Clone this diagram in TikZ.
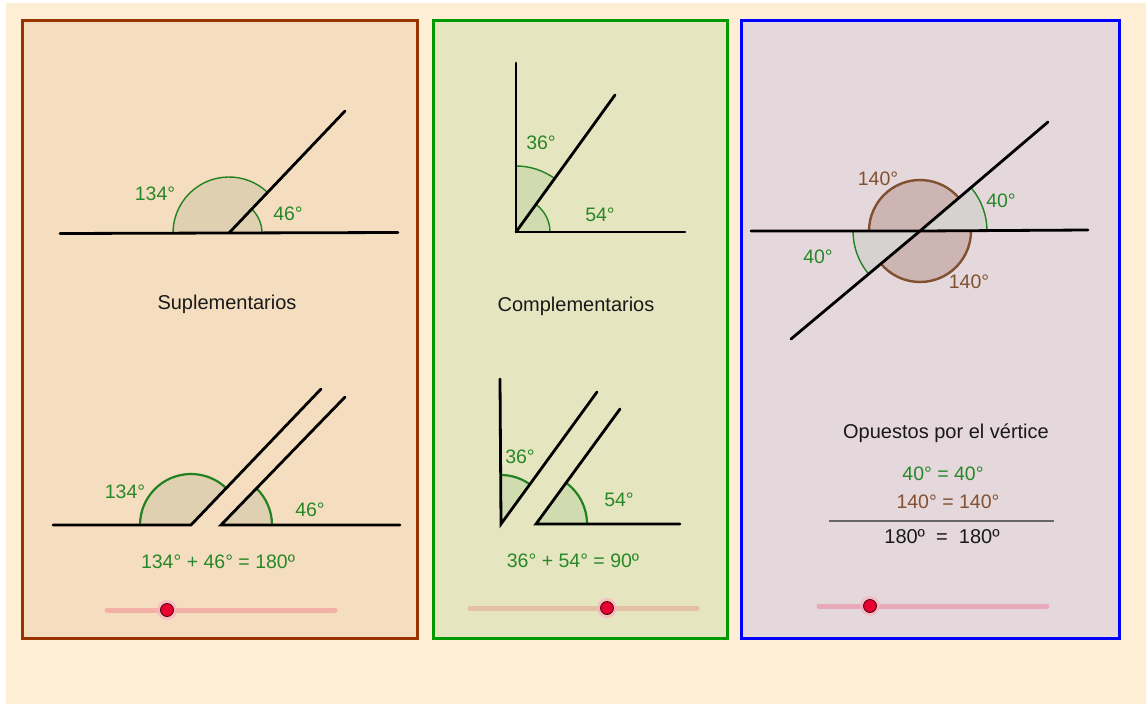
\documentclass[tikz,border=0pt]{standalone}
\usepackage{fontspec}
\setmainfont{Liberation Sans}
\definecolor{cream}{RGB}{255,238,214}
\definecolor{lfill}{RGB}{245,222,192}
\definecolor{lborder}{RGB}{153,51,0}
\definecolor{mfill}{RGB}{229,229,192}
\definecolor{mborder}{RGB}{0,153,0}
\definecolor{rfill}{RGB}{229,216,220}
\definecolor{rborder}{RGB}{0,0,255}
\definecolor{lsect}{RGB}{222,208,176}
\definecolor{msect}{RGB}{208,220,176}
\definecolor{rbrsect}{RGB}{205,181,180}
\definecolor{rgrsect}{RGB}{214,210,208}
\definecolor{gtext}{RGB}{40,135,40}
\definecolor{garc}{RGB}{34,130,34}
\definecolor{brn}{RGB}{128,80,48}
\definecolor{knob}{RGB}{232,0,50}
\tikzset{
  panel/.style={line width=3pt},
  ray/.style={line width=2.8pt, black, line cap=round},
  garcline/.style={garc, line width=1.4pt},
  garcthick/.style={garc, line width=2.2pt},
  brarc/.style={brn, line width=2.4pt},
  glabel/.style={text=gtext, font=\fontsize{19.5}{19.5}\selectfont, inner sep=0pt},
  blabel/.style={text=brn, font=\fontsize{19.5}{19.5}\selectfont, inner sep=0pt},
  title/.style={text=black!90, font=\fontsize{20}{20}\selectfont, inner sep=0pt},
  sliderline/.style={line width=5pt, line cap=round},
}
\newcommand{\myknob}[2]{%
  \fill[knob!30, opacity=0.7] (#1) circle (10pt);
  \fill[knob, draw=black!70!red, line width=0.8pt] (#1) circle (6.5pt);
}
\begin{document}
\begin{tikzpicture}[x=1pt,y=1pt]
\useasboundingbox (0,0) rectangle (1146,-704);
\fill[white] (0,0) rectangle (1146,-704);
\fill[cream] (6,-3) rectangle (1146,-704);

% panels
\draw[panel, draw=lborder, fill=lfill] (22,-20) rectangle (417,-638);
\draw[panel, draw=mborder, fill=mfill] (433,-20) rectangle (727,-638);
\draw[panel, draw=rborder, fill=rfill] (741,-20) rectangle (1119,-638);

% ---------- Left panel, top ----------
\coordinate (L1v) at (229,-233);
\coordinate (L1a) at (60,-233.5);
\coordinate (L1b) at (398,-232.5);
\coordinate (L1r) at (345,-111);
\fill[lsect] (L1v) -- ++(46:56) arc[start angle=46,end angle=180,radius=56] -- cycle;
\fill[lsect] (L1v) -- ++(0:33) arc[start angle=0,end angle=46,radius=33] -- cycle;
\draw[garcline] (L1v) ++(46:56) arc[start angle=46,end angle=180,radius=56];
\draw[garcline] (L1v) ++(0:33) arc[start angle=0,end angle=46,radius=33];
\draw[ray] (L1a) -- (L1v) -- (L1b);
\draw[ray] (L1v) -- (L1r);
\node[glabel] (l134) at (155,-194) {134°};
\node[glabel] (l46) at (288,-214) {46°};
\node[title] (sup) at (227,-304) {Suplementarios};

% ---------- Left panel, bottom ----------
\coordinate (L2v) at (191,-525);
\coordinate (L2a) at (53,-525);
\coordinate (L2r) at (321,-389);
\coordinate (L2w) at (221,-525);
\coordinate (L2b) at (400,-525);
\coordinate (L2s) at (345,-397);
\fill[lsect] (L2v) -- ++(46:51) arc[start angle=46,end angle=180,radius=51] -- cycle;
\fill[lsect] (L2w) -- ++(0:51) arc[start angle=0,end angle=46,radius=51] -- cycle;
\draw[garcthick] (L2v) ++(46:51) arc[start angle=46,end angle=180,radius=51];
\draw[garcthick] (L2w) ++(0:51) arc[start angle=0,end angle=46,radius=51];
\draw[ray] (L2a) -- (L2v) -- (L2r);
\draw[ray] (L2b) -- (L2w) -- (L2s);
\node[glabel] (l2134) at (125,-492) {134°};
\node[glabel] (l246) at (310,-510) {46°};
\node[glabel] (leq) at (218,-562) {134° + 46° = 180º};

% slider left
\coordinate (s1a) at (107,-610);
\coordinate (s1b) at (335,-610);
\coordinate (k1) at (167,-610);
\draw[sliderline, draw={rgb,255:red,242;green,176;blue,166}] (s1a) -- (s1b);
\myknob{k1}{}

% ---------- Middle panel, top ----------
\coordinate (M1v) at (516,-232);
\coordinate (M1u) at (516,-63);
\coordinate (M1h) at (685,-232);
\coordinate (M1r) at (615,-95);
\fill[msect] (M1v) -- ++(54:66) arc[start angle=54,end angle=90,radius=66] -- cycle;
\fill[msect] (M1v) -- ++(0:34) arc[start angle=0,end angle=54,radius=34] -- cycle;
\draw[garcline] (M1v) ++(54:66) arc[start angle=54,end angle=90,radius=66];
\draw[garcline] (M1v) ++(0:34) arc[start angle=0,end angle=54,radius=34];
\draw[ray] (M1u) -- (M1v) -- (M1h);
\draw[ray] (M1v) -- (M1r);
\node[glabel] (m36) at (541,-143) {36°};
\node[glabel] (m54) at (600,-215) {54°};
\node[title] (comp) at (576,-306) {Complementarios};

% ---------- Middle panel, bottom ----------
\coordinate (M2v) at (501,-524);
\coordinate (M2u) at (500,-379);
\coordinate (M2r) at (597,-392);
\coordinate (M2w) at (536,-524);
\coordinate (M2h) at (680,-524);
\coordinate (M2s) at (620,-409);
\fill[msect] (M2v) -- ++(54:49) arc[start angle=54,end angle=90,radius=49] -- cycle;
\fill[msect] (M2w) -- ++(0:51) arc[start angle=0,end angle=54,radius=51] -- cycle;
\draw[garcthick] (M2v) ++(54:49) arc[start angle=54,end angle=90,radius=49];
\draw[garcthick] (M2w) ++(0:51) arc[start angle=0,end angle=54,radius=51];
\draw[ray] (M2u) -- (M2v) -- (M2r);
\draw[ray] (M2h) -- (M2w) -- (M2s);
\node[glabel] (m236) at (520,-457) {36°};
\node[glabel] (m254) at (619,-500) {54°};
\node[glabel] (meq) at (573,-561) {36° + 54° = 90º};

% slider middle
\coordinate (s2a) at (470,-608);
\coordinate (s2b) at (697,-608);
\coordinate (k2) at (607,-608);
\draw[sliderline, draw={rgb,255:red,230;green,192;blue,166}] (s2a) -- (s2b);
\myknob{k2}{}

% ---------- Right panel ----------
\coordinate (Rv) at (920,-231);
\coordinate (Ra) at (751,-231);
\coordinate (Rb) at (1088,-230);
\coordinate (Rc) at (791,-339);
\coordinate (Rd) at (1048,-122);
\fill[rbrsect] (Rv) -- ++(40:51) arc[start angle=40,end angle=180,radius=51] -- cycle;
\fill[rbrsect] (Rv) -- ++(220:51) arc[start angle=220,end angle=360,radius=51] -- cycle;
\fill[rgrsect] (Rv) -- ++(0:67) arc[start angle=0,end angle=40,radius=67] -- cycle;
\fill[rgrsect] (Rv) -- ++(180:67) arc[start angle=180,end angle=220,radius=67] -- cycle;
\draw[brarc] (Rv) ++(40:51) arc[start angle=40,end angle=180,radius=51];
\draw[brarc] (Rv) ++(220:51) arc[start angle=220,end angle=360,radius=51];
\draw[garcline] (Rv) ++(0:67) arc[start angle=0,end angle=40,radius=67];
\draw[garcline] (Rv) ++(180:67) arc[start angle=180,end angle=220,radius=67];
\draw[ray] (Ra) -- (Rv) -- (Rb);
\draw[ray] (Rc) -- (Rv) -- (Rd);
\node[blabel] (r140a) at (878,-179) {140°};
\node[glabel] (r40a) at (1001,-201) {40°};
\node[glabel] (r40b) at (818,-257) {40°};
\node[blabel] (r140b) at (969,-282) {140°};
\node[title] (opu) at (946,-433) {Opuestos por el vértice};
\node[glabel] (req1) at (943,-474) {40° = 40°};
\node[blabel] (req2) at (948,-502) {140° = 140°};
\coordinate (rl1) at (829,-521);
\coordinate (rl2) at (1054,-521);
\draw[line width=1.6pt, black!60] (rl1) -- (rl2);
\node[title] (req3) at (942,-537) {180º\ \ =\ \ 180º};

% slider right
\coordinate (s3a) at (819,-606);
\coordinate (s3b) at (1047,-606);
\coordinate (k3) at (870,-606);
\draw[sliderline, draw={rgb,255:red,232;green,170;blue,186}] (s3a) -- (s3b);
\myknob{k3}{}
\end{tikzpicture}
\end{document}
